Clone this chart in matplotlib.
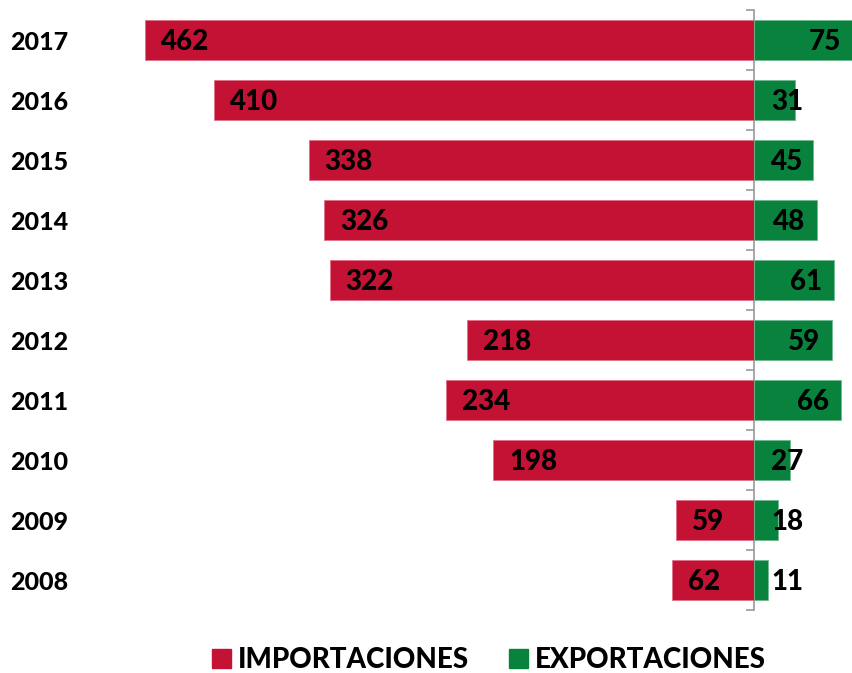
import matplotlib
matplotlib.use("Agg")
import matplotlib.pyplot as plt
from matplotlib.patches import Patch

years = ["2008", "2009", "2010", "2011", "2012", "2013", "2014", "2015", "2016", "2017"]
importaciones = [62, 59, 198, 234, 218, 322, 326, 338, 410, 462]
exportaciones = [11, 18, 27, 66, 59, 61, 48, 45, 31, 75]

RED = "#C41234"
GREEN = "#08823C"
FONT = ["Lato", "DejaVu Sans"]
plt.rcParams['font.family'] = FONT
WEIGHT = 900

W, H = 852, 673
fig = plt.figure(figsize=(W / 100, H / 100), dpi=100)

# layout in pixels
ax_left, ax_right, ax_top, ax_bottom = 80, 852, 10, 610
zero_px = 754
scale = 1.318  # px per unit
ax = fig.add_axes([ax_left / W, 1 - ax_bottom / H, (ax_right - ax_left) / W, (ax_bottom - ax_top) / H])
ax.set_xlim(-(zero_px - ax_left) / scale, (ax_right - zero_px) / scale)
ax.set_ylim(-0.5, len(years) - 0.5)

y = list(range(len(years)))
ax.barh(y, [-v for v in importaciones], height=0.68, color=RED, edgecolor="#E07088", linewidth=0.6, zorder=2)
ax.barh(y, exportaciones, height=0.68, color=GREEN, edgecolor="#70B890", linewidth=0.6, zorder=2)

for s in ax.spines.values():
    s.set_visible(False)
ax.set_xticks([])
ax.set_yticks(y)
ax.set_yticklabels(years, fontsize=18, fontweight=WEIGHT)
ax.tick_params(axis="y", length=0, pad=8.6)

# central axis with boundary ticks
sec = ax.secondary_yaxis(0, transform=ax.transData)
sec.set_yticks([i - 0.5 for i in range(len(years) + 1)])
sec.set_yticklabels([])
sec.tick_params(axis="y", direction="out", length=6, width=1.2, color="#9A9A9A")
sec.spines["left"].set_color("#9A9A9A")
sec.spines["left"].set_linewidth(1.2)
for k in ("right", "top", "bottom"):
    sec.spines[k].set_visible(False)

px = 0.72  # points per pixel
lab_w = 31  # approx label width px (two digits)
dy = -2 * px
for i, v in enumerate(importaciones):
    ax.annotate(str(v), (-v, i), xytext=(16 * px, dy), textcoords="offset points",
                ha="left", va="center", fontsize=20, fontweight=WEIGHT, color="black",
                zorder=3, annotation_clip=False)
for i, v in enumerate(exportaciones):
    end_px = v * scale
    if end_px - 15 - lab_w >= 17:
        ax.annotate(str(v), (v, i), xytext=(-12 * px, dy), textcoords="offset points",
                    ha="right", va="center", fontsize=20, fontweight=WEIGHT, color="black",
                    zorder=3, annotation_clip=False)
    else:
        ax.annotate(str(v), (0, i), xytext=(17 * px, dy), textcoords="offset points",
                    ha="left", va="center", fontsize=20, fontweight=WEIGHT, color="black",
                    zorder=3, annotation_clip=False)

handles = [Patch(facecolor=RED, edgecolor=RED), Patch(facecolor=GREEN, edgecolor=GREEN)]
fig.legend(handles, ["IMPORTACIONES", "EXPORTACIONES"], loc="center",
           bbox_to_anchor=(489 / W, 1 - 660 / H), ncol=2, frameon=False,
           prop={"family": FONT, "weight": WEIGHT, "size": 20},
           handlelength=0.68, handleheight=0.68, handletextpad=0.25, columnspacing=1.45,
           borderpad=0, borderaxespad=0)

fig.savefig("out.png", dpi=100)
